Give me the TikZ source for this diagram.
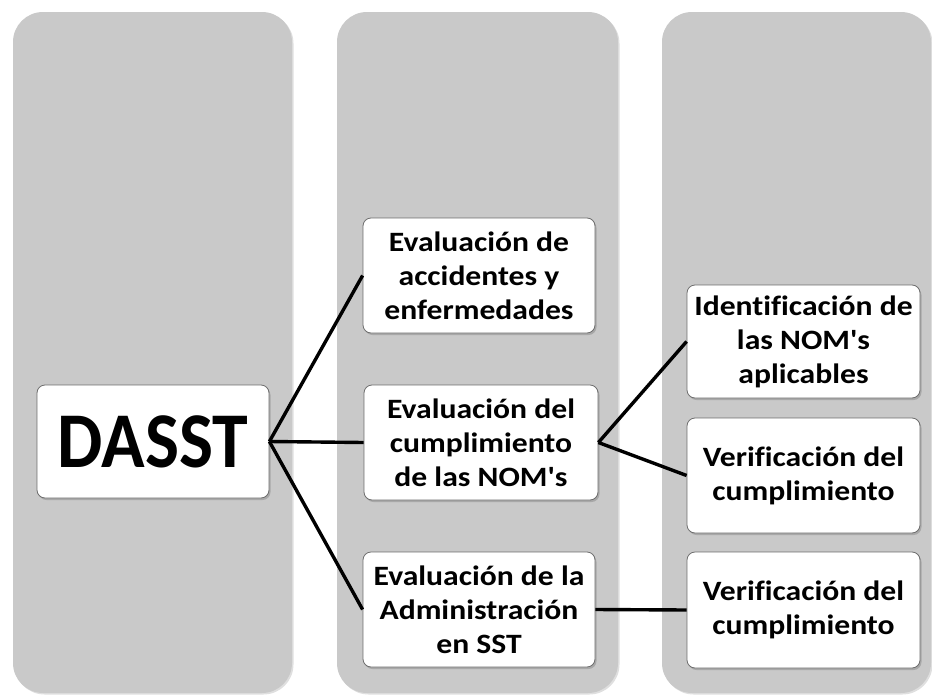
\documentclass[tikz,border=0pt]{standalone}
\usepackage{fontspec}
\setmainfont{Carlito}
\newfontfamily\boxfont{Carlito}[FakeStretch=1.13, Ligatures=NoCommon]
\newfontfamily\bigfont{Carlito}[FakeStretch=0.91]
\usetikzlibrary{shadows}
\tikzset{
  colbox/.style={fill=colgray, rounded corners=30pt, draw=none,
    drop shadow={opacity=0.25, shadow xshift=1.5pt, shadow yshift=-1.5pt}},
  itembox/.style={draw=boxedge, line width=0.8pt, fill=white, rounded corners=8pt,
    align=center, font=\boxfont\fontsize{28}{34}\selectfont\bfseries, inner sep=0pt,
    drop shadow={opacity=0.45, shadow xshift=1.5pt, shadow yshift=-2pt}},
  conn/.style={line width=3.4pt, black}
}
\definecolor{colgray}{HTML}{C9C9C9}
\definecolor{boxedge}{HTML}{6E6E6E}
\begin{document}
\begin{tikzpicture}[x=1pt,y=-1pt]
\useasboundingbox (0,0) rectangle (932,696);
% columns
\fill[colbox] (13,12) rectangle (292,693);
\fill[colbox] (337,12) rectangle (618,693);
\fill[colbox] (662,12) rectangle (931,693);
% boxes
\node[itembox, minimum width=232pt, minimum height=113pt, font=\bigfont\fontsize{79}{90}\selectfont\bfseries] (dasst) at (153,441.5) {DASST};
\node[itembox, minimum width=232pt, minimum height=115pt] (a) at (479,275.5) {Evaluación de\\accidentes y\\enfermedades};
\node[itembox, minimum width=234pt, minimum height=115pt] (b) at (481,442.5) {Evaluación del\\cumplimiento\\de las NOM's};
\node[itembox, minimum width=232pt, minimum height=115pt] (c) at (479,609.5) {Evaluación de la\\Administración\\en SST};
\node[itembox, minimum width=233pt, minimum height=113pt] (d) at (803.5,341.5) {Identificación de\\las NOM's\\aplicables};
\node[itembox, minimum width=233pt, minimum height=115pt] (e) at (803.5,475.5) {Verificación del\\cumplimiento};
\node[itembox, minimum width=233pt, minimum height=116pt] (f) at (803.5,610) {Verificación del\\cumplimiento};
% connectors
\draw[conn] (dasst.east) -- (a.west);
\draw[conn] (dasst.east) -- (b.west);
\draw[conn] (dasst.east) -- (c.west);
\draw[conn] (b.east) -- (d.west);
\draw[conn] (b.east) -- (e.west);
\draw[conn] (c.east) -- (f.west);
\end{tikzpicture}
\end{document}
